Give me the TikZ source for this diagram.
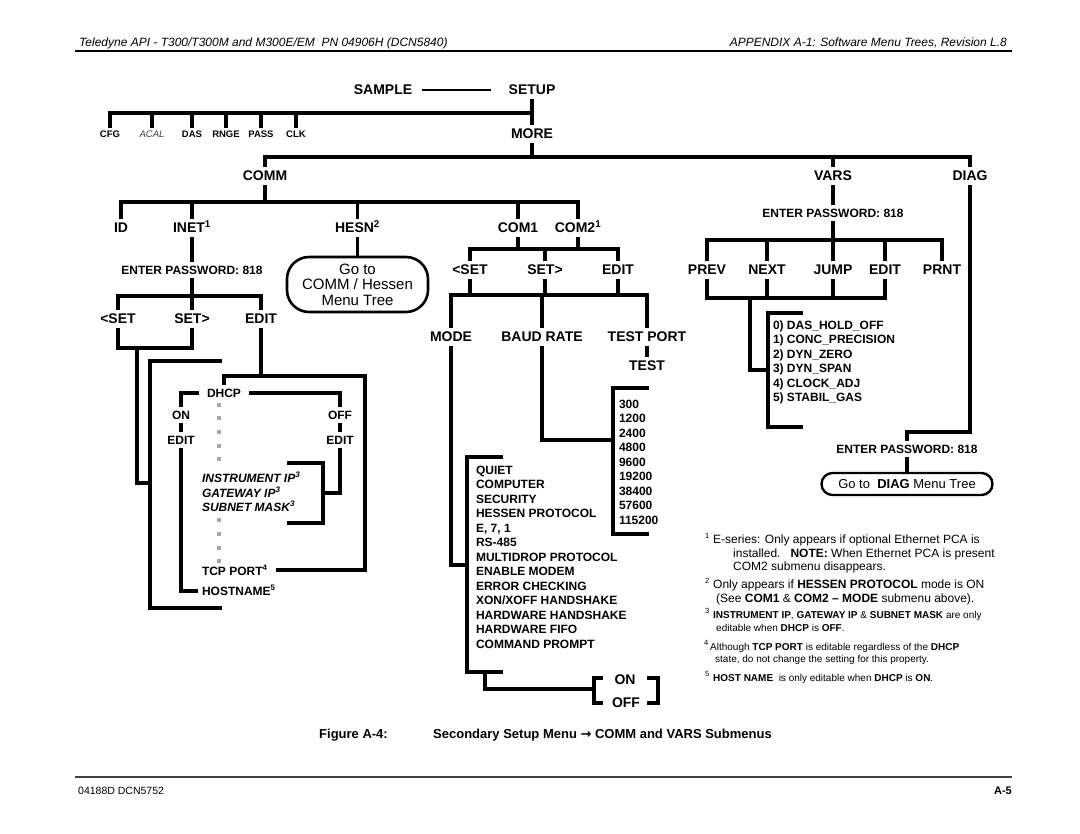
\documentclass[tikz,border=0pt]{standalone}
\usepackage{fontspec}
\setmainfont{Liberation Sans}
\newfontfamily\symf{DejaVu Sans}
\begin{document}
\begin{tikzpicture}[x=1pt,y=-1pt,
 ln/.style={line width=3.1pt, line join=miter},
 big/.style={font=\fontsize{14}{16}\selectfont\bfseries, inner sep=0pt, outer sep=4pt, text height=10pt, text depth=0pt},
 mid/.style={font=\fontsize{12}{14}\selectfont\bfseries, inner sep=0pt, outer sep=4pt, text height=8.6pt, text depth=0pt},
 tiny/.style={font=\fontsize{9.5}{11}\selectfont\bfseries, inner sep=0pt, outer sep=3pt, text height=6.8pt, text depth=0pt},
 item/.style={font=\fontsize{12}{14}\selectfont\bfseries, inner sep=0pt, outer sep=0pt, anchor=west, text height=8.6pt, text depth=0pt},
 gdot/.style={fill=black!35, minimum size=3.6pt, inner sep=0pt},
 fn/.style={anchor=base west, inner sep=0pt, font=\fontsize{12}{14}\selectfont},
 fns/.style={anchor=base west, inner sep=0pt, font=\fontsize{10}{12}\selectfont},
 fsup/.style={anchor=base west, inner sep=0pt, font=\fontsize{7.5}{8}\selectfont},
]
\useasboundingbox (0,0) rectangle (1080,834);
\fill[white] (0,0) rectangle (1080,834);

% header
\node[anchor=base west, inner sep=0pt, font=\fontsize{12}{14}\selectfont\itshape] (hl) at (79,47) {Teledyne API - T300/T300M and M300E/EM\ \ PN 04906H (DCN5840)};
\node[anchor=base east, inner sep=0pt, font=\fontsize{12}{14}\selectfont\itshape] (hr) at (1007,47) {APPENDIX A-1: Software Menu Trees, Revision L.8};
\draw[line width=1.2pt] (75,51) -- (1012,51);

% top
\node[big] (sample) at (383,90) {SAMPLE};
\node[big] (setup) at (532,90) {SETUP};
\draw[line width=2pt] ([xshift=6pt]sample.east) -- ([xshift=-14pt]setup.west);
\node[big] (more) at (532,134) {MORE};
\coordinate (j1) at (532,113);
\draw[ln] (setup.south) -- (more.north);
\node[tiny] (cfg) at (110,134) {CFG};
\node[tiny, font=\fontsize{9.5}{11}\selectfont\itshape, text=black!75] (acal) at (152,134) {ACAL};
\node[tiny] (das) at (192,134) {DAS};
\node[tiny] (rnge) at (226,134) {RNGE};
\node[tiny] (pass) at (261,134) {PASS};
\node[tiny] (clk) at (296,134) {CLK};
\draw[ln] (cfg.north) |- (j1);
\foreach \n in {acal,das,rnge,pass,clk} \draw[ln] (\n.north) -- (\n.north |- j1);

% second level
\node[big] (comm) at (265,176) {COMM};
\node[big] (vars) at (833,176) {VARS};
\node[big] (diag) at (970,176) {DIAG};
\coordinate (j2) at (532,157);
\draw[ln] (more.south) -- (j2);
\draw[ln] (comm.north) |- (diag.north |- j2) -- (diag.north);
\draw[ln] (vars.north) -- (vars.north |- j2);

% COMM children
\node[big] (id) at (121,228) {ID};
\node[big] (inet) at (192,228) {INET\textsuperscript{1}};
\node[big] (hesn) at (357.5,228) {HESN\textsuperscript{2}};
\node[big] (com1) at (518,228) {COM1};
\node[big] (com2) at (578,228) {COM2\textsuperscript{1}};
\coordinate (j3) at (265,202);
\draw[ln] (comm.south) -- (j3);
\draw[ln] (id.north) |- (com2.north |- j3) -- (com2.north);
\foreach \n in {inet,hesn,com1} \draw[ln] (\n.north) -- (\n.north |- j3);

% INET branch
\node[mid] (pw1) at (192,270) {ENTER PASSWORD: 818};
\draw[ln] (inet.south) -- (pw1.north);
\node[big] (lset) at (118,319) {<SET};
\node[big] (lsetr) at (192,319) {SET>};
\node[big] (ledit) at (261,319) {EDIT};
\coordinate (j4) at (192,296);
\draw[ln] (pw1.south) -- (j4);
\draw[ln] (lset.north) |- (ledit.north |- j4) -- (ledit.north);
\draw[ln] (lsetr.north) -- (lsetr.north |- j4);

% HESN box
\node[draw, line width=2.6pt, rounded corners=22pt, minimum width=141pt, minimum height=55pt, inner sep=0pt, align=center, font=\fontsize{15}{15.5}\selectfont] (hbox) at (357.5,284.5) {Go to\\COMM / Hessen\\Menu Tree};
\draw[ln] (hesn.south) -- (hbox.north);

% INET <SET SET> bracket
\coordinate (jl1) at (137,348);
\coordinate (bigmid) at (150,483);
\coordinate (bigt) at (222,361);
\coordinate (bigb) at (222,608);
\draw[ln] (lset.south) |- (lsetr.south |- jl1) -- (lsetr.south);
\draw[ln] (jl1) |- (bigmid);
\draw[ln] (bigt) -- (150,361) -- (150,608) -- (bigb);

% EDIT / DHCP block
\node[mid] (dhcp) at (224,393) {DHCP};
\node[mid] (on) at (181,415) {ON};
\node[mid] (off) at (340,415) {OFF};
\node[mid] (oned) at (181,440) {EDIT};
\node[mid] (offed) at (340,440) {EDIT};
\node[item, font=\fontsize{12}{14}\selectfont\bfseries\itshape] (ip1) at (202,478) {INSTRUMENT IP\textsuperscript{3}};
\node[item, font=\fontsize{12}{14}\selectfont\bfseries\itshape] (ip2) at (202,493) {GATEWAY IP\textsuperscript{3}};
\node[item, font=\fontsize{12}{14}\selectfont\bfseries\itshape] (ip3) at (202,507) {SUBNET MASK\textsuperscript{3}};
\node[item] (tcp) at (202,571) {TCP PORT\textsuperscript{4}};
\node[item] (host) at (202,591) {HOSTNAME\textsuperscript{5}};
\coordinate (je) at (261,376);
\coordinate (jbr) at (365,376);
\coordinate (jbb) at (365,570);
\draw[ln] (ledit.south) -- (je);
\draw[ln] (dhcp.north) |- (jbr) -- (jbb) -- ([xshift=8pt]tcp.east |- jbb);
\draw[ln] ([xshift=-4pt]dhcp.west) -| (on.north);
\draw[ln] ([xshift=4pt]dhcp.east) -| (off.north);
\draw[ln] (on.south) -- (oned.north);
\draw[ln] (off.south) -- (offed.north);
\draw[ln] (oned.south) |- ([xshift=-4pt]host.west);
\coordinate (bkm) at (323,493);
\draw[ln] (offed.south) |- (bkm);
\draw[ln] (287,463) -- (323,463) -- (323,523) -- (287,523);
\foreach \yy [count=\i] in {405,418,432,446,459,520,534,548,561} \node[gdot] (gd\i) at (219,\yy) {};

% COM1/COM2 branch
\node[big] (mset) at (470,270) {<SET};
\node[big] (msetr) at (545,270) {SET>};
\node[big] (medit) at (618,270) {EDIT};
\coordinate (j5) at (518,249);
\draw[ln] (com1.south) -- (j5);
\draw[ln] (com2.south) -- (com2.south |- j5);
\draw[ln] (mset.north) |- (medit.north |- j5) -- (medit.north);
\draw[ln] (msetr.north) -- (msetr.north |- j5);

\node[big] (mode) at (451,337) {MODE};
\node[big] (baud) at (542,337) {BAUD RATE};
\node[big] (tport) at (647,337) {TEST PORT};
\node[big] (test) at (647,366) {TEST};
\coordinate (j6) at (545,295);
\draw[ln] (mset.south) -- (mset.south |- j6);
\draw[ln] (msetr.south) -- (j6);
\draw[ln] (medit.south) -- (medit.south |- j6);
\draw[ln] (mode.north) |- (tport.north |- j6) -- (tport.north);
\draw[ln] (baud.north) -- (baud.north |- j6);
\draw[ln] (tport.south) -- (test.north);

% baud rates
\coordinate (bbmid) at (613,440);
\draw[ln] (baud.south) |- (bbmid);
\draw[ln] (649,388) -- (613,388) -- (613,534) -- (649,534);
\foreach \v [count=\i from 0] in {300,1200,2400,4800,9600,19200,38400,57600,115200}
  \node[item] (bv\i) at (619,{404+14.5*\i}) {\v};

% mode list
\coordinate (mmid) at (467,565);
\draw[ln] (mode.south) |- (mmid);
\draw[ln] (503,457) -- (467,457) -- (467,672) -- (503,672);
\foreach \t [count=\i from 0] in {QUIET,COMPUTER,SECURITY,HESSEN PROTOCOL,{E, 7, 1},RS-485,MULTIDROP PROTOCOL,ENABLE MODEM,ERROR CHECKING,XON/XOFF HANDSHAKE,HARDWARE HANDSHAKE,HARDWARE FIFO,COMMAND PROMPT}
  \node[item] (mi\i) at (476,{470+14.5*\i}) {\t};

% ON / OFF
\node[big] (on2) at (625,679) {ON};
\node[big] (off2) at (626,702) {OFF};
\coordinate (oo1) at (485,672);
\coordinate (oo2) at (594,689);
\draw[ln] (oo1) |- (oo2);
\draw[ln] (603,678) -- (594,678) -- (594,703) -- (603,703);
\draw[ln] (647,678) -- (658,678) -- (658,703) -- (647,703);

% VARS branch
\node[mid] (pw2) at (833,213) {ENTER PASSWORD: 818};
\draw[ln] (vars.south) -- (pw2.north);
\node[big] (prev) at (707,270) {PREV};
\node[big] (next) at (767,270) {NEXT};
\node[big] (jump) at (833,270) {JUMP};
\node[big] (vedit) at (885,270) {EDIT};
\node[big] (prnt) at (942,270) {PRNT};
\coordinate (j7) at (833,240);
\draw[ln] (pw2.south) -- (j7);
\draw[ln] (prev.north) |- (prnt.north |- j7) -- (prnt.north);
\foreach \n in {next,jump,vedit} \draw[ln] (\n.north) -- (\n.north |- j7);
\coordinate (j8) at (750,298);
\draw[ln] (prev.south) |- (vedit.south |- j8) -- (vedit.south);
\foreach \n in {next,jump} \draw[ln] (\n.south) -- (\n.south |- j8);
\coordinate (vmid) at (768,370);
\draw[ln] (j8) |- (vmid);
\draw[ln] (803,313) -- (768,313) -- (768,427) -- (803,427);
\foreach \t [count=\i from 0] in {0) DAS\_HOLD\_OFF,1) CONC\_PRECISION,2) DYN\_ZERO,3) DYN\_SPAN,4) CLOCK\_ADJ,5) STABIL\_GAS}
  \node[item] (vi\i) at (773,{325+14.5*\i}) {\t};

% DIAG branch
\node[mid] (pw3) at (907,449) {ENTER PASSWORD: 818};
\coordinate (dj) at (907,432);
\draw[ln] (diag.south) |- (dj) -- (pw3.north);
\node[draw, line width=2.4pt, rounded corners=11pt, minimum width=171pt, minimum height=22pt, inner sep=0pt, font=\fontsize{13}{14}\selectfont] (dbox) at (907,484) {Go to\ \ \textbf{DIAG} Menu Tree};
\draw[ln] (pw3.south) -- (dbox.north);

% footnotes
\node[fsup] (s1) at (705,538) {1};
\node[fn] (f1a) at (713,543) {E-series: Only appears if optional Ethernet PCA is};
\node[fn] (f1b) at (733,557) {installed.\ \ \ \textbf{NOTE:} When Ethernet PCA is present};
\node[fn] (f1c) at (733,570) {COM2 submenu disappears.};
\node[fsup] (s2) at (705,583) {2};
\node[fn] (f2a) at (713,588) {Only appears if \textbf{HESSEN PROTOCOL} mode is ON};
\node[fn] (f2b) at (716,602) {(See \textbf{COM1} \& \textbf{COM2 – MODE} submenu above).};
\node[fsup] (s3) at (705,613) {3};
\node[fns] (f3a) at (713,618) {\textbf{INSTRUMENT IP}, \textbf{GATEWAY IP} \& \textbf{SUBNET MASK} are only};
\node[fns] (f3b) at (716,631) {editable when \textbf{DHCP} is \textbf{OFF}.};
\node[fsup] (s4) at (704,645) {4};
\node[fns] (f4a) at (710,650) {Although \textbf{TCP PORT} is editable regardless of the \textbf{DHCP}};
\node[fns] (f4b) at (715,662) {state, do not change the setting for this property.};
\node[fsup] (s5) at (705,676) {5};
\node[fns] (f5a) at (713,681) {\textbf{HOST NAME}\ \ is only editable when \textbf{DHCP} is \textbf{ON}.};

% caption
\node[anchor=base west, inner sep=0pt, font=\fontsize{13}{15}\selectfont\bfseries] (capa) at (319,738) {Figure A-4:};
\node[anchor=base west, inner sep=0pt, font=\fontsize{13}{15}\selectfont\bfseries] (capb) at (433,738) {Secondary Setup Menu {\symf →} COMM and VARS Submenus};

% footer
\draw[line width=1.5pt, black!75] (75,777) -- (1012,777);
\node[anchor=base west, inner sep=0pt, font=\fontsize{10.5}{12}\selectfont] (ft1) at (78,794) {04188D DCN5752};
\node[anchor=base east, inner sep=0pt, font=\fontsize{11}{12}\selectfont\bfseries] (ft2) at (1012,794) {A-5};
\end{tikzpicture}
\end{document}
